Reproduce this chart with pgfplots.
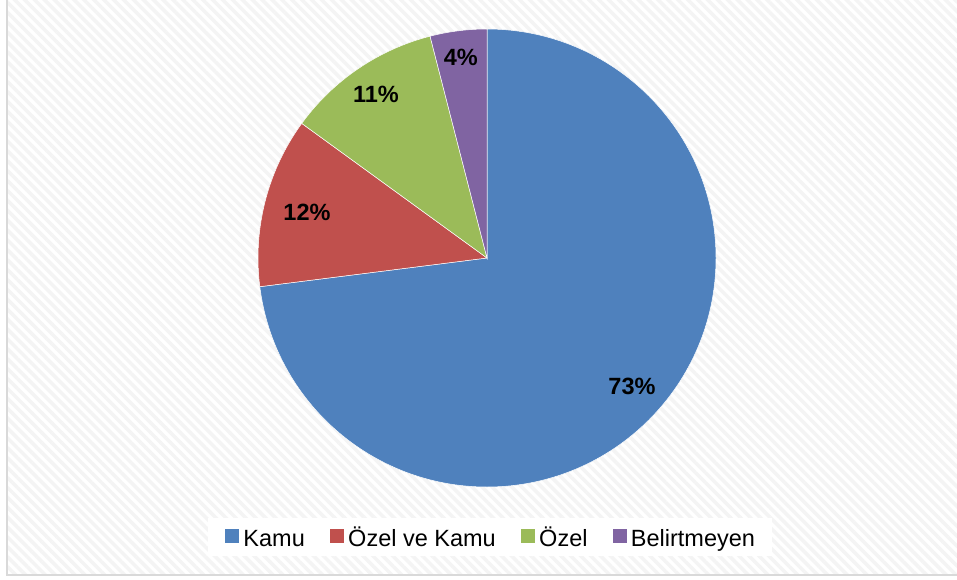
\documentclass[border=0pt]{standalone}
\usepackage{pgfplots}
\pgfplotsset{compat=1.18}
\usepackage{fontspec}
\setmainfont{Liberation Sans}
\usetikzlibrary{patterns.meta}
\definecolor{kamu}{HTML}{4F81BD}
\definecolor{ozelkamu}{HTML}{C0504D}
\definecolor{ozel}{HTML}{9BBB59}
\definecolor{belirt}{HTML}{8064A2}
\definecolor{framegray}{HTML}{D9D9D9}
\definecolor{hatch}{HTML}{F4F4F4}
% data (percent)
\def\vKamu{73}
\def\vOzelKamu{12}
\def\vOzel{11}
\def\vBelirt{4}
\newcommand\lph{\vphantom{Öy}}
\begin{document}
\begin{tikzpicture}[x=1pt,y=1pt]
\useasboundingbox (0,0) rectangle (957,579);
\fill[white] (0,0) rectangle (957,579);
\fill[pattern={Lines[angle=-45,distance=7pt,line width=3.5pt]},pattern color=hatch] (7,4) rectangle (962,584);
\draw[framegray,line width=2pt] (7,584) -- (7,4) -- (962,4);
\pgfmathsetmacro\aA{90}
\pgfmathsetmacro\aB{\aA-3.6*\vKamu}
\pgfmathsetmacro\aC{\aB-3.6*\vOzelKamu}
\pgfmathsetmacro\aD{\aC-3.6*\vOzel}
\pgfmathsetmacro\aE{\aD-3.6*\vBelirt}
\begin{axis}[hide axis, scale only axis, width=503.8pt, height=503.8pt,
  xmin=-1.1,xmax=1.1,ymin=-1.1,ymax=1.1, at={(487pt,321pt)}, anchor=center, clip=false,
  legend columns=4,
  legend style={at={(0.506,-0.0538)}, anchor=center, fill=white, draw=none,
    font=\fontsize{23.5}{28}\selectfont, inner xsep=17pt, inner ysep=8pt,
    nodes={inner sep=0pt},
    /tikz/every odd column/.append style={column sep=5pt},
    /tikz/every even column/.append style={column sep=25pt}},
  ]
\fill[kamu,draw=white,line width=0.5pt] (axis cs:0,0) -- (axis cs:{cos(\aA)},{sin(\aA)}) arc[start angle=\aA, end angle=\aB, radius=1] -- cycle;
\fill[ozelkamu,draw=white,line width=0.5pt] (axis cs:0,0) -- (axis cs:{cos(\aB)},{sin(\aB)}) arc[start angle=\aB, end angle=\aC, radius=1] -- cycle;
\fill[ozel,draw=white,line width=0.5pt] (axis cs:0,0) -- (axis cs:{cos(\aC)},{sin(\aC)}) arc[start angle=\aC, end angle=\aD, radius=1] -- cycle;
\fill[belirt,draw=white,line width=0.5pt] (axis cs:0,0) -- (axis cs:{cos(\aD)},{sin(\aD)}) arc[start angle=\aD, end angle=\aE, radius=1] -- cycle;
\begin{scope}[every node/.style={font=\bfseries\fontsize{23.5}{28}\selectfont}]
\node at (axis cs:0.633,-0.559) {\vKamu\%};
\node at (axis cs:-0.786,0.197) {\vOzelKamu\%};
\node at (axis cs:-0.485,0.716) {\vOzel\%};
\node at (axis cs:-0.114,0.878) {\vBelirt\%};
\end{scope}
\addlegendimage{legend image code/.code={\fill[kamu] (0pt,-5.5pt) rectangle (13pt,7.5pt);}}
\addlegendentry{\lph Kamu}
\addlegendimage{legend image code/.code={\fill[ozelkamu] (0pt,-5.5pt) rectangle (13pt,7.5pt);}}
\addlegendentry{\lph Özel ve Kamu}
\addlegendimage{legend image code/.code={\fill[ozel] (0pt,-5.5pt) rectangle (13pt,7.5pt);}}
\addlegendentry{\lph Özel}
\addlegendimage{legend image code/.code={\fill[belirt] (0pt,-5.5pt) rectangle (13pt,7.5pt);}}
\addlegendentry{\lph Belirtmeyen}
\end{axis}
\end{tikzpicture}
\end{document}
